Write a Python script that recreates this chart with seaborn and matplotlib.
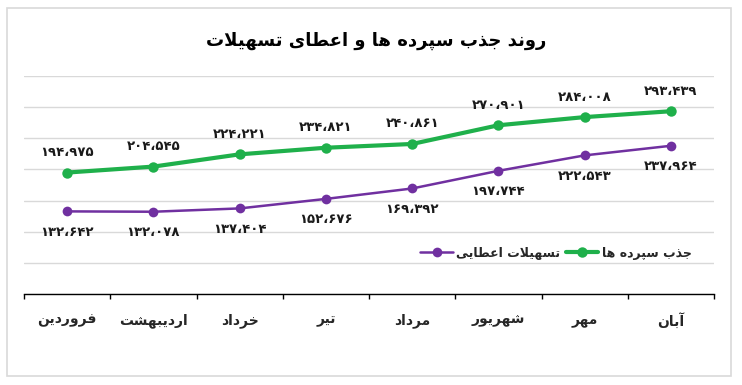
import matplotlib
matplotlib.use("Agg")
import matplotlib.pyplot as plt
import seaborn as sns
import pandas as pd
from matplotlib.patches import Rectangle

# ---------------- data ----------------
title_text = "روند جذب سپرده ها و اعطای تسهیلات"
months = ["فروردین", "اردیبهشت", "خرداد", "تیر", "مرداد", "شهریور", "مهر", "آبان"]
series_deposits = "جذب سپرده ها"
series_loans = "تسهیلات اعطایی"
deposits = [194975, 204545, 224221, 234821, 240861, 270901, 284008, 293439]
loans = [132642, 132078, 137404, 152676, 169392, 197744, 222543, 237964]

# ---------------- simple Persian shaping ----------------
FORMS = {
    '\u0627': ('\uFE8D', '\uFE8E', None, None),
    '\u0622': ('\uFE81', '\uFE82', None, None),
    '\u0628': ('\uFE8F', '\uFE90', '\uFE91', '\uFE92'),
    '\u067E': ('\uFB56', '\uFB57', '\uFB58', '\uFB59'),
    '\u062A': ('\uFE95', '\uFE96', '\uFE97', '\uFE98'),
    '\u062C': ('\uFE9D', '\uFE9E', '\uFE9F', '\uFEA0'),
    '\u062E': ('\uFEA5', '\uFEA6', '\uFEA7', '\uFEA8'),
    '\u062F': ('\uFEA9', '\uFEAA', None, None),
    '\u0630': ('\uFEAB', '\uFEAC', None, None),
    '\u0631': ('\uFEAD', '\uFEAE', None, None),
    '\u0633': ('\uFEB1', '\uFEB2', '\uFEB3', '\uFEB4'),
    '\u0634': ('\uFEB5', '\uFEB6', '\uFEB7', '\uFEB8'),
    '\u0637': ('\uFEC1', '\uFEC2', '\uFEC3', '\uFEC4'),
    '\u0639': ('\uFEC9', '\uFECA', '\uFECB', '\uFECC'),
    '\u0641': ('\uFED1', '\uFED2', '\uFED3', '\uFED4'),
    '\u0644': ('\uFEDD', '\uFEDE', '\uFEDF', '\uFEE0'),
    '\u0645': ('\uFEE1', '\uFEE2', '\uFEE3', '\uFEE4'),
    '\u0646': ('\uFEE5', '\uFEE6', '\uFEE7', '\uFEE8'),
    '\u0647': ('\uFEE9', '\uFEEA', '\uFEEB', '\uFEEC'),
    '\u0648': ('\uFEED', '\uFEEE', None, None),
    '\u06CC': ('\uFBFC', '\uFBFD', '\uFBFE', '\uFBFF'),
}


def shape(s):
    chars = []
    i = 0
    while i < len(s):
        if s[i] == '\u0644' and i + 1 < len(s) and s[i + 1] == '\u0627':
            chars.append('LA')
            i += 2
        else:
            chars.append(s[i])
            i += 1

    def joins_next(c):
        return c in FORMS and FORMS[c][2] is not None

    def is_letter(c):
        return c in FORMS or c == 'LA'

    out = []
    for k, c in enumerate(chars):
        prev = chars[k - 1] if k > 0 else None
        nxt = chars[k + 1] if k + 1 < len(chars) else None
        cp = prev is not None and joins_next(prev)
        if c == 'LA':
            out.append('\uFEFC' if cp else '\uFEFB')
            continue
        if c not in FORMS:
            out.append(c)
            continue
        iso, fin, ini, med = FORMS[c]
        cn = ini is not None and nxt is not None and is_letter(nxt)
        if cp and cn:
            out.append(med)
        elif cp:
            out.append(fin)
        elif cn:
            out.append(ini)
        else:
            out.append(iso)
    return ''.join(reversed(out))


PDIG = str.maketrans("0123456789,", "۰۱۲۳۴۵۶۷۸۹،")


def pnum(v):
    return f"{v:,}".translate(PDIG)


# ---------------- figure ----------------
sns.set_theme(style="white")
plt.rcParams['font.family'] = ['DejaVu Sans']

W, H = 742, 385
fig = plt.figure(figsize=(W / 100, H / 100), dpi=100)
fig.patch.set_facecolor("white")
fig.patches.append(Rectangle((7 / W, 1 - 376 / H), 724 / W, 368 / H,
                             transform=fig.transFigure, fill=False,
                             edgecolor="#d9d9d9", linewidth=1.2))

ax = fig.add_axes([24 / W, 1 - 294 / H, 690 / W, 218 / H])

mlabels = [shape(m) for m in months]
df_dep = pd.DataFrame({"month": mlabels, "value": deposits})
df_loan = pd.DataFrame({"month": mlabels, "value": loans})

GREEN = "#1fb04b"
PURPLE = "#7030a0"

sns.lineplot(data=df_loan, x="month", y="value", ax=ax, color=PURPLE,
             linewidth=1.8, marker="o", markersize=7, markeredgewidth=0,
             label=shape(series_loans), sort=False)
sns.lineplot(data=df_dep, x="month", y="value", ax=ax, color=GREEN,
             linewidth=3.0, marker="o", markersize=7.5, markeredgewidth=0,
             label=shape(series_deposits), sort=False)

ax.set_xlim(-0.5, len(months) - 0.5)
ax.set_ylim(0, 350000)
ax.set_yticks(range(0, 350001, 50000))
ax.yaxis.grid(True, color="#d9d9d9", linewidth=1)
ax.xaxis.grid(False)
ax.tick_params(axis="y", left=False, labelleft=False)
ax.set_xlabel("")
ax.set_ylabel("")
for s in ["left", "right", "top"]:
    ax.spines[s].set_visible(False)
ax.spines["bottom"].set_color("black")
ax.spines["bottom"].set_linewidth(1.0)
ax.set_axisbelow(True)

ax.set_xticks(range(len(months)))
ax.set_xticklabels(mlabels, fontsize=10, fontweight="bold")
ax.tick_params(axis="x", which="major", length=0, pad=14)
ax.set_xticks([i - 0.5 for i in range(len(months) + 1)], minor=True)
ax.tick_params(axis="x", which="minor", length=3.5, width=1, color="black",
               direction="out", bottom=True)

for i, v in enumerate(deposits):
    ax.annotate(pnum(v), (i, v), xytext=(0, 20), textcoords="offset pixels",
                ha="center", va="center", fontsize=9.5, fontweight="bold",
                color="#1a1a1a")
for i, v in enumerate(loans):
    ax.annotate(pnum(v), (i, v), xytext=(0, -21), textcoords="offset pixels",
                ha="center", va="center", fontsize=9.5, fontweight="bold",
                color="#1a1a1a")

leg = ax.legend(loc="center", bbox_to_anchor=(556 / W, 1 - 253 / H),
                bbox_transform=fig.transFigure, ncol=2, frameon=False,
                handlelength=2.6, columnspacing=0.4, handletextpad=0.3,
                prop={"weight": "bold", "size": 9})

fig.text(376 / W, 1 - 41 / H, shape(title_text), ha="center", va="center",
         fontsize=13, fontweight="bold", color="black")

fig.savefig("out.png", dpi=100, facecolor="white")
